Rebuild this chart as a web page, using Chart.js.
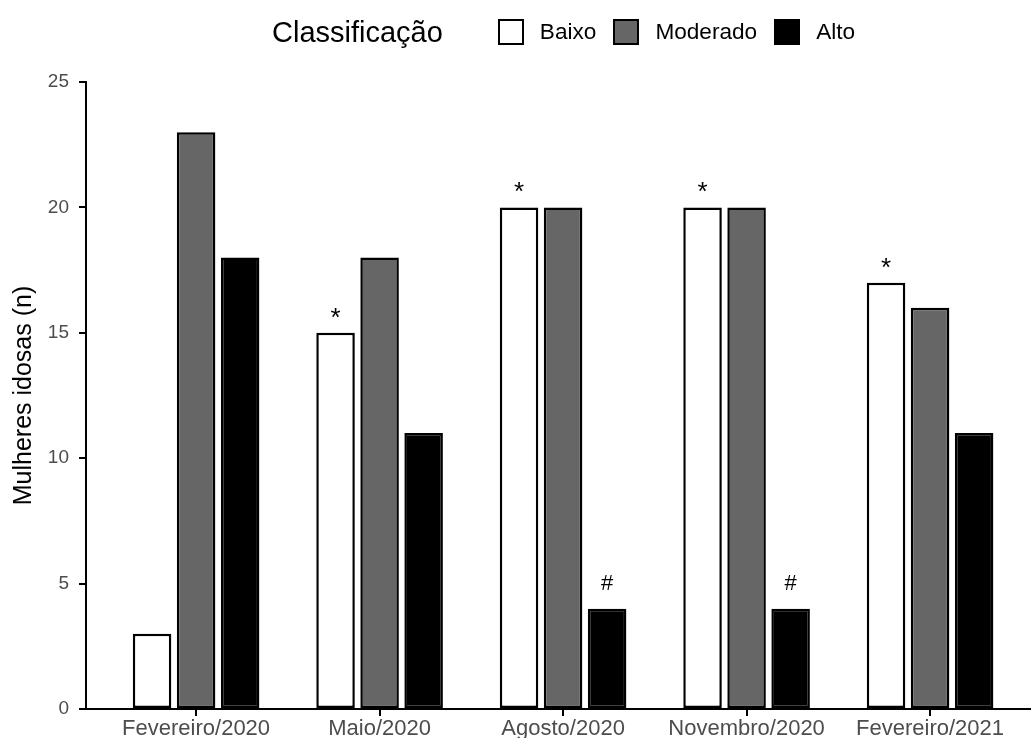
<!DOCTYPE html>
<html><head><meta charset="utf-8">
<script src="https://cdn.jsdelivr.net/npm/chart.js@4"></script>
<style>
html,body{margin:0;padding:0;background:#fff;overflow:hidden}
#wrap{position:relative;width:1031px;height:738px}
#chart{position:absolute;left:0;top:0}
#legend{position:absolute;left:272px;top:14px;height:36px;display:flex;align-items:center;font-family:"Liberation Sans",Arial,sans-serif;color:#000;white-space:nowrap}
#legend .title{font-size:29px;margin-right:55px}
#legend .box{width:22px;height:22px;border:2px solid #000;margin-right:16px}
#legend .lab{font-size:22.6px;margin-right:17px}
</style>
</head><body>
<div id="wrap">
<canvas id="chart" width="1031" height="738"></canvas>
<div id="legend"></div>
</div>
<script>
const categories = ["Fevereiro/2020","Maio/2020","Agosto/2020","Novembro/2020","Fevereiro/2021"];
const seriesNames = ["Baixo","Moderado","Alto"];
const baixo = [3,15,20,20,17];
const moderado = [23,18,20,20,16];
const alto = [18,11,4,4,11];
const baixoMarks = ["","*","*","*","*"];
const moderadoMarks = ["","","","",""];
const altoMarks = ["","","#","#",""];
const yTicks = [0,5,10,15,20,25];
const legendTitle = "Classificação";
const yTitle = "Mulheres idosas (n)";

const FONT = '"Liberation Sans", Arial, sans-serif';
const fills = ["#ffffff","#666666","#000000"];
const seriesValues = [baixo, moderado, alto];
const seriesMarks = [baixoMarks, moderadoMarks, altoMarks];
const markStyle = {"*":{size:26,gap:15},"#":{size:22,gap:19}};

// HTML legend
const lg = document.getElementById('legend');
const t = document.createElement('span'); t.className='title'; t.textContent = legendTitle; lg.appendChild(t);
seriesNames.forEach((n,i)=>{
  const b=document.createElement('span'); b.className='box'; b.style.background=fills[i]; lg.appendChild(b);
  const l=document.createElement('span'); l.className='lab'; l.textContent=n; lg.appendChild(l);
});

const markPlugin = {
  id:'marks',
  afterDatasetsDraw(chart){
    const ctx = chart.ctx;
    ctx.save();
    ctx.fillStyle = '#000';
    ctx.textAlign = 'center';
    ctx.textBaseline = 'alphabetic';
    seriesMarks.forEach((marks,di)=>{
      const meta = chart.getDatasetMeta(di);
      meta.data.forEach((bar,i)=>{
        const m = marks[i];
        if(!m) return;
        const st = markStyle[m] || {size:19,gap:16};
        ctx.font = st.size + 'px ' + FONT;
        const d = ctx.measureText(m).actualBoundingBoxDescent;
        ctx.fillText(m, bar.x, bar.y - st.gap - d);
      });
    });
    ctx.restore();
  }
};

new Chart(document.getElementById('chart'), {
  type:'bar',
  data:{
    datasets: seriesNames.map((n,i)=>({
      label:n,
      data: seriesValues[i].map((v,j)=>({x:j,y:v})),
      backgroundColor: fills[i],
      borderColor:'#000',
      borderWidth:2.5,
      borderSkipped:false,
      categoryPercentage:0.72,
      barPercentage:0.875
    }))
  },
  options:{
    responsive:false,
    animation:false,
    events:[],
    layout:{padding:{top:82,left:0,right:0,bottom:0}},
    plugins:{legend:{display:false},tooltip:{enabled:false}},
    scales:{
      x:{
        type:'linear',
        min:-0.6, max:4.55,
        offset:false,
        ticks:{stepSize:1, autoSkip:false, maxRotation:0, color:'#4d4d4d', font:{family:FONT,size:22}, padding:0,
          callback:(v)=>categories[Math.round(v)] ?? ''},
        afterBuildTicks:(s)=>{ s.ticks = s.ticks.filter(tk=>Number.isInteger(tk.value)); },
        afterFit:(s)=>{ s.height = 29; },
        grid:{display:true, offset:false, drawOnChartArea:false, drawTicks:true, tickLength:7, color:'#000', lineWidth:2},
        border:{display:true,color:'#000',width:2}
      },
      y:{
        min:0, max:25,
        afterBuildTicks:(s)=>{ s.ticks = yTicks.map(v=>({value:v})); },
        ticks:{color:'#4d4d4d', font:{family:FONT,size:19}, padding:10},
        title:{display:true, text:yTitle, color:'#000', font:{family:FONT,size:25}, padding:{top:9,bottom:0}},
        afterFit:(s)=>{ s.width = 86; },
        grid:{display:true, offset:false, drawOnChartArea:false, drawTicks:true, tickLength:7, color:'#000', lineWidth:2},
        border:{display:true,color:'#000',width:2}
      }
    }
  },
  plugins:[markPlugin]
});
</script>
</body></html>
